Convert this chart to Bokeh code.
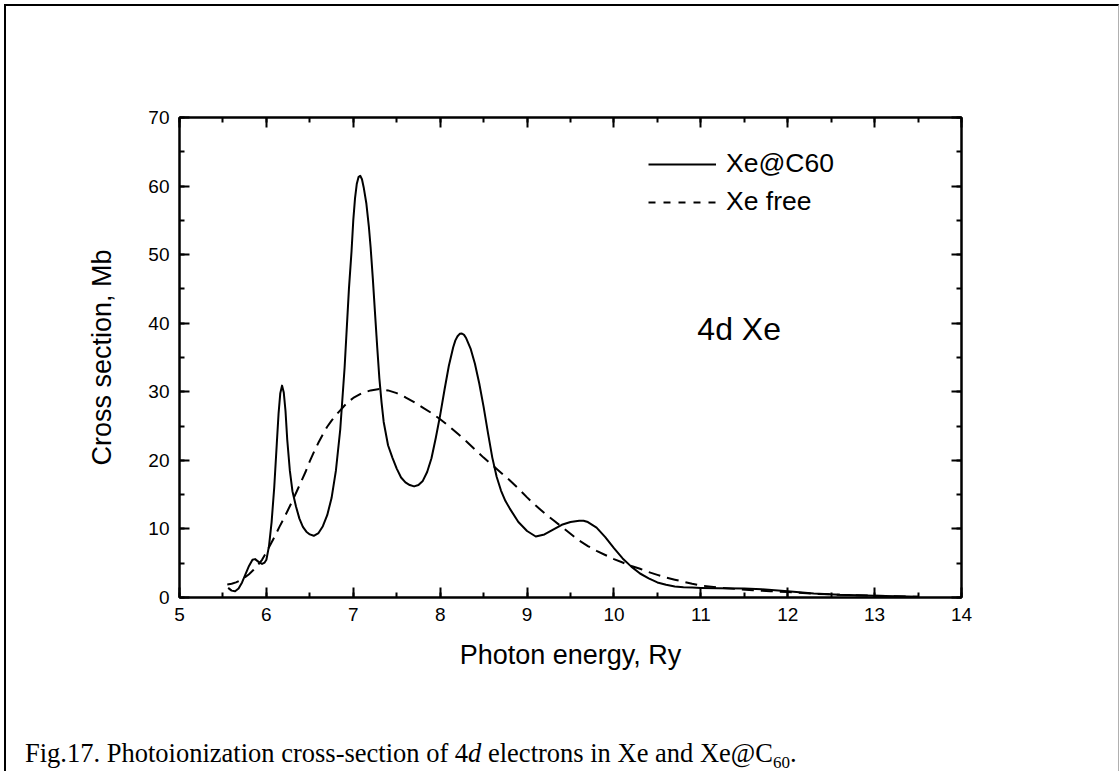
from bokeh.plotting import figure
from bokeh.layouts import column
from bokeh.models import (Range1d, LinearAxis, SingleIntervalTicker, Legend, LegendItem,
                          Label, Div, CustomJSTickFormatter)
from bokeh.embed import file_html
from bokeh.resources import INLINE

# Photoionization cross-section of 4d electrons (Mb) vs photon energy (Ry)
energy_c60 = [5.56, 5.60, 5.64, 5.68, 5.72, 5.76, 5.80, 5.84, 5.87, 5.91, 5.95, 5.98,
              6.00, 6.03, 6.06, 6.09, 6.12, 6.14, 6.16, 6.18, 6.20, 6.22, 6.24, 6.27,
              6.30, 6.34, 6.38, 6.42, 6.46, 6.50, 6.545, 6.60, 6.65, 6.70, 6.75, 6.80,
              6.85, 6.90, 6.95, 6.98, 7.00, 7.02, 7.04, 7.06, 7.08, 7.10, 7.12, 7.15,
              7.18, 7.20, 7.225, 7.25, 7.275, 7.30, 7.325, 7.35, 7.40, 7.45,
              7.50, 7.55, 7.60, 7.65, 7.70, 7.75, 7.80, 7.85, 7.90, 7.95, 8.00, 8.05,
              8.10, 8.15, 8.175, 8.20, 8.225, 8.25, 8.275, 8.30, 8.35, 8.40, 8.45, 8.50,
              8.55, 8.60, 8.65, 8.70, 8.75, 8.80, 8.90, 9.00, 9.10, 9.20, 9.30, 9.40,
              9.50, 9.60, 9.65, 9.70, 9.80, 9.90, 10.00, 10.10, 10.20, 10.30, 10.40,
              10.50, 10.60, 10.70, 10.80, 10.90, 11.00, 11.20, 11.50, 11.70, 12.00,
              12.30, 12.60, 13.00, 13.50]
sigma_c60 = [1.4, 1.0, 0.9, 1.3, 2.2, 3.4, 4.6, 5.5, 5.6, 5.2, 4.9, 5.1,
             5.5, 7.5, 11.0, 16.0, 22.5, 26.8, 29.8, 30.9, 29.9, 27.2, 23.0, 18.5,
             15.5, 13.3, 11.5, 10.3, 9.6, 9.2, 9.0, 9.4, 10.4, 12.0, 14.5, 18.5,
             24.5, 33.5, 45.0, 50.5, 55.0, 58.2, 60.3, 61.3, 61.5, 61.0, 59.8, 57.5,
             54.0, 51.0, 46.5, 41.5, 36.6, 32.0, 28.5, 25.6, 22.2, 20.4,
             18.8, 17.5, 16.8, 16.4, 16.2, 16.4, 17.0, 18.3, 20.3, 23.3, 26.6, 30.3,
             33.8, 36.5, 37.5, 38.1, 38.45, 38.5, 38.3, 37.8, 36.3, 34.1, 31.2, 27.8,
             24.0, 20.4, 17.6, 15.6, 14.1, 13.0, 11.0, 9.7, 8.9, 9.2, 9.9, 10.6,
             11.0, 11.2, 11.2, 11.0, 10.2, 8.8, 7.2, 5.7, 4.5, 3.5, 2.8,
             2.2, 1.85, 1.6, 1.5, 1.45, 1.4, 1.35, 1.3, 1.2, 0.9,
             0.6, 0.4, 0.25, 0.1]

energy_free = [5.55, 5.60, 5.65, 5.70, 5.75, 5.80, 5.85, 5.90, 5.95, 6.00, 6.05, 6.10,
               6.15, 6.20, 6.25, 6.30, 6.35, 6.40, 6.45, 6.50, 6.55, 6.60, 6.65, 6.70,
               6.75, 6.80, 6.85, 6.90, 6.95, 7.00, 7.10, 7.20, 7.30, 7.40, 7.50, 7.60,
               7.70, 7.80, 7.90, 8.00, 8.10, 8.20, 8.30, 8.40, 8.50, 8.60, 8.70, 8.80,
               8.90, 9.00, 9.10, 9.20, 9.30, 9.40, 9.50, 9.60, 9.70, 9.80, 9.90, 10.00,
               10.10, 10.20, 10.30, 10.40, 10.50, 10.60, 10.70, 10.80, 10.90, 11.00,
               11.20, 11.40, 11.60, 11.80, 12.00, 12.30, 12.60, 13.00, 13.50]
sigma_free = [1.9, 2.0, 2.2, 2.5, 2.9, 3.4, 4.0, 4.7, 5.5, 6.6, 7.8, 9.0,
              10.3, 11.5, 12.8, 14.1, 15.5, 16.9, 18.3, 19.9, 21.3, 22.6, 23.8, 24.9,
              25.8, 26.6, 27.3, 28.0, 28.6, 29.1, 29.8, 30.2, 30.4, 30.2, 29.8, 29.2,
              28.5, 27.7, 26.9, 26.0, 25.0, 23.9, 22.8, 21.6, 20.4, 19.3, 18.2, 17.1,
              15.9, 14.6, 13.4, 12.3, 11.3, 10.3, 9.3, 8.3, 7.5, 6.8, 6.2, 5.6,
              5.1, 4.6, 4.2, 3.7, 3.3, 2.9, 2.6, 2.3, 2.0, 1.75,
              1.45, 1.25, 1.05, 0.92, 0.8, 0.55, 0.4, 0.25, 0.1]

series_names = ["Xe@C60", "Xe free"]
x_label = "Photon energy, Ry"
y_label = "Cross section, Mb"
panel_note = "4d Xe"
caption_parts = [("Fig.17. Photoionization cross-section of 4", "plain"),
                 ("d", "italic"),
                 (" electrons in Xe and Xe@C", "plain"),
                 ("60", "sub"),
                 (".", "plain")]

SANS = "Liberation Sans"
SERIF = "Liberation Serif"

p = figure(width=1112, height=727, output_backend="svg", toolbar_location=None,
           x_range=Range1d(5, 14), y_range=Range1d(0, 70),
           min_border_left=173, min_border_right=157, min_border_top=111,
           min_border_bottom=136, x_axis_label=x_label, y_axis_label=y_label)
p.grid.visible = False
p.background_fill_color = "white"
p.border_fill_color = "white"
p.outline_line_color = "black"
p.outline_line_width = 2


def style_axis(ax, interval, show_labels):
    ax.ticker = SingleIntervalTicker(interval=interval, num_minor_ticks=2)
    ax.axis_line_width = 2
    ax.axis_line_color = "black"
    ax.major_tick_in = 10
    ax.major_tick_out = 0
    ax.minor_tick_in = 5
    ax.minor_tick_out = 0
    ax.major_tick_line_width = 2
    ax.minor_tick_line_width = 2
    ax.major_label_text_font = SANS
    ax.major_label_text_font_size = "19px"
    ax.major_label_text_color = "black"
    ax.major_label_standoff = 10
    ax.axis_label_text_font = SANS
    ax.axis_label_text_font_size = "27px"
    ax.axis_label_text_font_style = "normal"
    ax.axis_label_text_color = "black"
    if not show_labels:
        ax.formatter = CustomJSTickFormatter(code="return ''")


style_axis(p.xaxis[0], 1, True)
style_axis(p.yaxis[0], 10, True)
p.xaxis[0].axis_label_standoff = 16
p.yaxis[0].axis_label_standoff = 28

top_axis = LinearAxis()
right_axis = LinearAxis()
style_axis(top_axis, 1, False)
style_axis(right_axis, 10, False)
p.add_layout(top_axis, "above")
p.add_layout(right_axis, "right")

solid = p.line(energy_c60, sigma_c60, line_color="black", line_width=2,
               line_join="round")
dashed = p.line(energy_free, sigma_free, line_color="black", line_width=2,
                line_dash="12 7")
# key sample for the free-atom curve uses shorter dashes; it holds no drawable point
dashed_key = p.line([float("nan")], [float("nan")], line_color="black",
                    line_width=2, line_dash="7 8")

legend = Legend(items=[LegendItem(label=series_names[0], renderers=[solid]),
                       LegendItem(label=series_names[1], renderers=[dashed_key])],
                location=(469, 380), padding=0, margin=0, spacing=7,
                glyph_width=68, glyph_height=30, label_height=30,
                label_standoff=10, label_text_font=SANS,
                label_text_font_size="26.5px", label_text_color="black",
                border_line_alpha=0, background_fill_alpha=0)
p.add_layout(legend)

p.add_layout(Label(x=10.96, y=39.2, text=panel_note, text_font=SANS,
                   text_font_size="32px", text_baseline="middle",
                   text_color="black"))

caption_html = ""
for text, kind in caption_parts:
    if kind == "italic":
        caption_html += f"<i>{text}</i>"
    elif kind == "sub":
        caption_html += f'<sub style="font-size:17px">{text}</sub>'
    else:
        caption_html += text

caption = Div(text=caption_html, width=1098, height=38,
              styles={"font-family": SERIF, "font-size": "26.5px",
                      "line-height": "30px", "color": "black",
                      "padding-left": "14px", "white-space": "nowrap"})

# the figure panel is framed on the left, top and right
page = column(p, caption, spacing=0,
              styles={"margin-left": "4px", "margin-top": "4px",
                      "border-left": "2px solid black",
                      "border-top": "2px solid black",
                      "border-right": "1px solid #b0b0b0",
                      "background-color": "white"})

open("out.html", "w").write(file_html(page, INLINE))
